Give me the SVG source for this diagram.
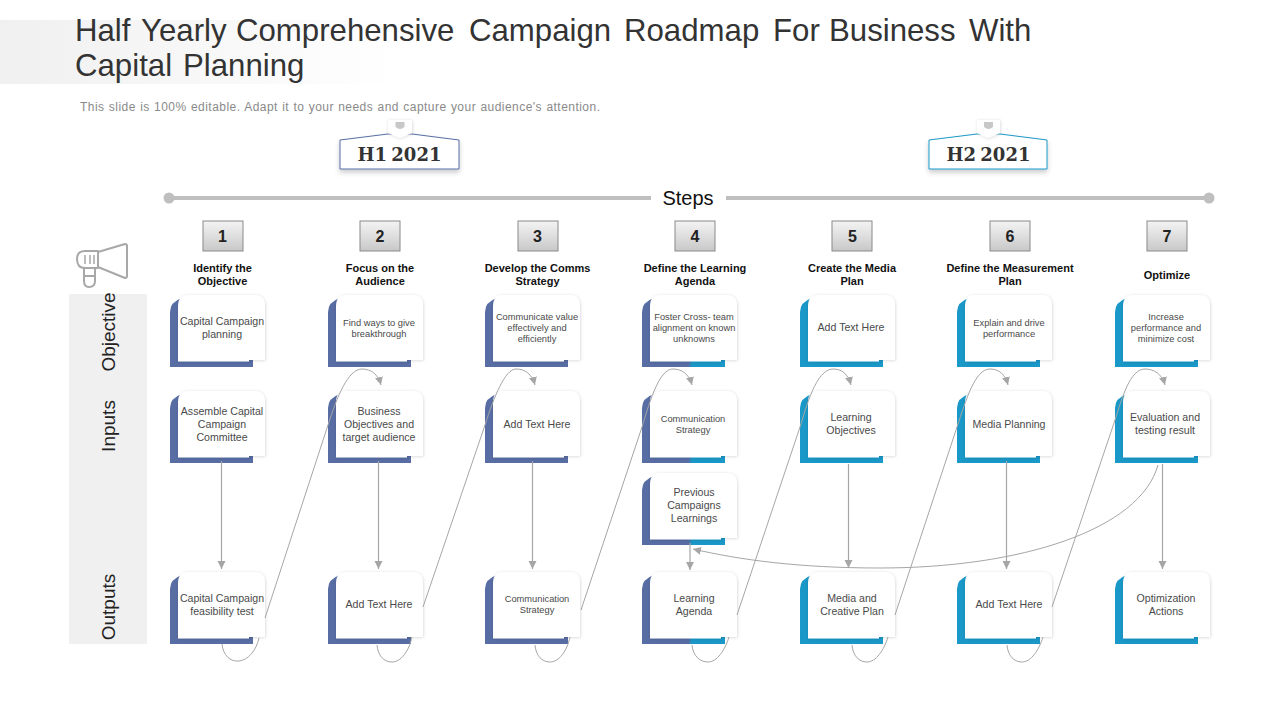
<svg xmlns="http://www.w3.org/2000/svg" width="1280" height="720" viewBox="0 0 1280 720">
<style>
text{font-family:"Liberation Sans",Arial,sans-serif;text-anchor:middle;fill:#4a4a4a}
.t{font-size:10.6px}
.s{font-size:9.3px}
.h{font-size:11px;font-weight:bold;fill:#111}
.n{font-size:16px;font-weight:bold;fill:#222}
.r{font-size:19px;fill:#222}
.y{font-family:"DejaVu Serif",serif;font-size:18px;font-weight:bold;fill:#333;word-spacing:-2px}
.ti{font-size:31.2px;text-anchor:start;fill:#333}
.c{fill:none;stroke:#a6a6a6;stroke-width:1}
.v{stroke-width:1.2}
.a{marker-end:url(#arr)}
.nb{fill:url(#nbg);stroke:#8a8a8a;stroke-width:1}
.pur{fill:#586da4}.cy{fill:#1a98c8}.mix{fill:url(#mix)}
.card{fill:#fff;filter:url(#sh)}
</style>
<defs>
<linearGradient id="band" x1="0" x2="1" y1="0" y2="0"><stop offset="0" stop-color="#f0f0f0"/><stop offset="1" stop-color="#fff"/></linearGradient>
<linearGradient id="nbg" x1="0" x2="0" y1="0" y2="1"><stop offset="0" stop-color="#f4f4f4"/><stop offset="1" stop-color="#c8c8c8"/></linearGradient>
<linearGradient id="mix" x1="0" x2="1" y1="0" y2="0"><stop offset="0.56" stop-color="#586da4"/><stop offset="0.6" stop-color="#1a98c8"/></linearGradient>
<filter id="sh" x="-10%" y="-10%" width="125%" height="125%"><feDropShadow dx="0.5" dy="0.5" stdDeviation="1.5" flood-color="#000" flood-opacity="0.17"/></filter>
<filter id="sh2" x="-10%" y="-20%" width="120%" height="150%"><feDropShadow dx="0" dy="3" stdDeviation="2.5" flood-color="#000" flood-opacity="0.2"/></filter>
<marker id="arr" markerUnits="userSpaceOnUse" markerWidth="10" markerHeight="10" refX="8" refY="4" orient="auto"><path d="M0,0L8,4L0,8Z" fill="#a6a6a6"/></marker>
<path id="back" d="M0,72V17Q0,7 12,3H83V72Z"/>
<path id="cardp" d="M8,66.500V11Q8,0 19,0H84Q95,0 95,11V65H79V66.500Z"/>
</defs>

<rect x="0" y="20" width="400" height="64" fill="url(#band)"/>
<g id="title">
<text class="ti" y="41"><tspan x="75">Half </tspan><tspan x="141">Yearly </tspan><tspan x="236">Comprehensive </tspan><tspan x="469">Campaign </tspan><tspan x="624">Roadmap </tspan><tspan x="773">For </tspan><tspan x="829">Business </tspan><tspan x="969">With</tspan></text>
<text class="ti" y="76"><tspan x="75">Capital </tspan><tspan x="183">Planning</tspan></text>
<text x="80" y="111" style="font-size:12px;text-anchor:start;fill:#8a8a8a;word-spacing:0.500px" textLength="520" lengthAdjust="spacing">This slide is 100% editable. Adapt it to your needs and capture your audience's attention.</text>
</g>

<g id="h1">
<path d="M340,140L388,134H412L459,140V169H340Z" fill="#fff" stroke="#586da4" filter="url(#sh2)"/>
<path d="M388,120H412V133L400,138L388,133Z" class="card"/>
<path d="M395.500,122H404.500V127Q400,131 395.500,127Z" fill="#c8c8c8"/>
<text class="y" x="399.500" y="161">H1 2021</text>
</g>
<g id="h2">
<path d="M929,140L977,134H1000L1047,140V169H929Z" fill="#fff" stroke="#1a98c8" filter="url(#sh2)"/>
<path d="M977,120H1000V133L988,138L977,133Z" class="card"/>
<path d="M984,122H993V127Q988.500,131 984,127Z" fill="#c8c8c8"/>
<text class="y" x="988.500" y="161">H2 2021</text>
</g>

<g id="steps">
<line x1="169" y1="198" x2="651" y2="198" stroke="#bfbfbf" stroke-width="4"/>
<line x1="726" y1="198" x2="1209" y2="198" stroke="#bfbfbf" stroke-width="4"/>
<circle cx="169" cy="198" r="5.500" fill="#bfbfbf"/>
<circle cx="1209" cy="198" r="5.500" fill="#bfbfbf"/>
<text x="688" y="205" style="font-size:20px;fill:#111">Steps</text>
</g>

<g id="megaphone" fill="none" stroke="#a8a8a8" stroke-width="2" stroke-linejoin="round">
<path d="M98,252L125,244Q127,244 127,246V276Q127,278 125,278L98,267Z"/>
<path d="M98,251H85Q77,251 77,259Q77,268 85,268H98Z"/>
<path d="M85,255V264M90,255V264M94,255V264" stroke-width="1.500"/>
<path d="M84,268V281Q84,287 89,287Q95,287 95,281V268M84,276H95"/>
</g>

<g id="row-labels">
<rect x="69" y="294" width="78" height="350" fill="#f0f0f0"/>
<text class="r" transform="translate(115,332) rotate(-90)">Objective</text>
<text class="r" transform="translate(115,426) rotate(-90)">Inputs</text>
<text class="r" transform="translate(115,607) rotate(-90)">Outputs</text>
</g>

<g id="step-1"><rect class="nb" x="203" y="221" width="40" height="30"/><text class="n" x="222.500" y="242">1</text><text class="h" x="222.500" y="272">Identify the</text><text class="h" x="222.500" y="285">Objective</text></g>
<g id="step-2"><rect class="nb" x="360" y="221" width="40" height="30"/><text class="n" x="380" y="242">2</text><text class="h" x="380" y="272">Focus on the</text><text class="h" x="380" y="285">Audience</text></g>
<g id="step-3"><rect class="nb" x="518" y="221" width="40" height="30"/><text class="n" x="537.500" y="242">3</text><text class="h" x="537.500" y="272">Develop the Comms</text><text class="h" x="537.500" y="285">Strategy</text></g>
<g id="step-4"><rect class="nb" x="675" y="221" width="40" height="30"/><text class="n" x="695" y="242">4</text><text class="h" x="695" y="272">Define the Learning</text><text class="h" x="695" y="285">Agenda</text></g>
<g id="step-5"><rect class="nb" x="832" y="221" width="40" height="30"/><text class="n" x="852.500" y="242">5</text><text class="h" x="852" y="272">Create the Media</text><text class="h" x="852" y="285">Plan</text></g>
<g id="step-6"><rect class="nb" x="990" y="221" width="40" height="30"/><text class="n" x="1010" y="242">6</text><text class="h" x="1010" y="272">Define the Measurement</text><text class="h" x="1010" y="285">Plan</text></g>
<g id="step-7"><rect class="nb" x="1147" y="221" width="40" height="30"/><text class="n" x="1167" y="242">7</text><text class="h" x="1167" y="279">Optimize</text></g>

<g id="obj-1"><use href="#back" class="pur" x="170" y="295"/><use href="#cardp" class="card" x="170" y="295"/><text class="t" x="222" y="325">Capital Campaign</text><text class="t" x="222" y="338">planning</text></g>
<g id="obj-2"><use href="#back" class="pur" x="328" y="295"/><use href="#cardp" class="card" x="328" y="295"/><text class="s" x="379" y="326">Find ways to give</text><text class="s" x="379" y="337">breakthrough</text></g>
<g id="obj-3"><use href="#back" class="pur" x="485" y="295"/><use href="#cardp" class="card" x="485" y="295"/><text class="s" x="537" y="320">Communicate value</text><text class="s" x="537" y="331">effectively and</text><text class="s" x="537" y="342">efficiently</text></g>
<g id="obj-4"><path class="mix" d="M642,367V312Q642,302 654,298H725V367Z"/><use href="#cardp" class="card" x="642" y="295"/><text class="s" x="694" y="320">Foster Cross- team</text><text class="s" x="694" y="331">alignment on known</text><text class="s" x="694" y="342">unknowns</text></g>
<g id="obj-5"><use href="#back" class="cy" x="800" y="295"/><use href="#cardp" class="card" x="800" y="295"/><text class="t" x="851" y="331">Add Text Here</text></g>
<g id="obj-6"><use href="#back" class="cy" x="957" y="295"/><use href="#cardp" class="card" x="957" y="295"/><text class="s" x="1009" y="326">Explain and drive</text><text class="s" x="1009" y="337">performance</text></g>
<g id="obj-7"><use href="#back" class="cy" x="1115" y="295"/><use href="#cardp" class="card" x="1115" y="295"/><text class="s" x="1166" y="320">Increase</text><text class="s" x="1166" y="331">performance and</text><text class="s" x="1166" y="342">minimize cost</text></g>

<g id="inp-1"><use href="#back" class="pur" x="170" y="391"/><use href="#cardp" class="card" x="170" y="391"/><text class="t" x="222" y="415">Assemble Capital</text><text class="t" x="222" y="428">Campaign</text><text class="t" x="222" y="441">Committee</text></g>
<g id="inp-2"><use href="#back" class="pur" x="328" y="391"/><use href="#cardp" class="card" x="328" y="391"/><text class="t" x="379" y="415">Business</text><text class="t" x="379" y="428">Objectives and</text><text class="t" x="379" y="441">target audience</text></g>
<g id="inp-3"><use href="#back" class="pur" x="485" y="391"/><use href="#cardp" class="card" x="485" y="391"/><text class="t" x="537" y="428">Add Text Here</text></g>
<g id="inp-4"><path class="mix" d="M642,463V408Q642,398 654,394H725V463Z"/><use href="#cardp" class="card" x="642" y="391"/><text class="s" x="693" y="422">Communication</text><text class="s" x="693" y="433">Strategy</text></g>
<g id="inp-5"><use href="#back" class="cy" x="800" y="391"/><use href="#cardp" class="card" x="800" y="391"/><text class="t" x="851" y="421">Learning</text><text class="t" x="851" y="434">Objectives</text></g>
<g id="inp-6"><use href="#back" class="cy" x="957" y="391"/><use href="#cardp" class="card" x="957" y="391"/><text class="t" x="1009" y="428">Media Planning</text></g>
<g id="inp-7"><use href="#back" class="cy" x="1115" y="391"/><use href="#cardp" class="card" x="1115" y="391"/><text class="t" x="1165" y="421">Evaluation and</text><text class="t" x="1165" y="434">testing result</text></g>

<g id="prev-4"><path class="mix" d="M642,545V490Q642,480 654,476H725V545Z"/><use href="#cardp" class="card" x="642" y="473"/><text class="t" x="694" y="496">Previous</text><text class="t" x="694" y="509">Campaigns</text><text class="t" x="694" y="522">Learnings</text></g>

<g id="out-1"><use href="#back" class="pur" x="170" y="572"/><use href="#cardp" class="card" x="170" y="572"/><text class="t" x="222" y="602">Capital Campaign</text><text class="t" x="222" y="615">feasibility test</text></g>
<g id="out-2"><use href="#back" class="pur" x="328" y="572"/><use href="#cardp" class="card" x="328" y="572"/><text class="t" x="379" y="608">Add Text Here</text></g>
<g id="out-3"><use href="#back" class="pur" x="485" y="572"/><use href="#cardp" class="card" x="485" y="572"/><text class="s" x="537" y="602">Communication</text><text class="s" x="537" y="613">Strategy</text></g>
<g id="out-4"><path class="mix" d="M642,644V589Q642,579 654,575H725V644Z"/><use href="#cardp" class="card" x="642" y="572"/><text class="t" x="694" y="602">Learning</text><text class="t" x="694" y="615">Agenda</text></g>
<g id="out-5"><use href="#back" class="cy" x="800" y="572"/><use href="#cardp" class="card" x="800" y="572"/><text class="t" x="852" y="602">Media and</text><text class="t" x="852" y="615">Creative Plan</text></g>
<g id="out-6"><use href="#back" class="cy" x="957" y="572"/><use href="#cardp" class="card" x="957" y="572"/><text class="t" x="1009" y="608">Add Text Here</text></g>
<g id="out-7"><use href="#back" class="cy" x="1115" y="572"/><use href="#cardp" class="card" x="1115" y="572"/><text class="t" x="1166" y="602">Optimization</text><text class="t" x="1166" y="615">Actions</text></g>

<g id="connectors">
<path class="c v a" d="M221.500,461V569"/>
<path class="c v a" d="M378.500,461V569"/>
<path class="c v a" d="M532.500,461V569"/>
<path class="c v a" d="M690,543V570"/>
<path class="c v a" d="M848.500,464V568"/>
<path class="c v a" d="M1006.500,461V569"/>
<path class="c v a" d="M1162.500,464V569"/>
<path class="c a" d="M1158,465C1140,530 1020,568 880,568C800,568 740,560 693,549"/>
<path class="c a" d="M222,644C223,655 230,662 239,661C248,660 256,651 259,638M265,618L328,425C337,397 348,369 362,369C371,369 378,374 381,385"/>
<path class="c a" d="M377,645C378,656 384,662 392,662C401,662 409,651 412,637M423,607L485,425C494,397 505,369 516,369C525,369 532,374 535,385"/>
<path class="c a" d="M535,645C536,656 542,662 550,662C559,662 567,651 570,637M581,610L642,427C651,397 660,369 673,369C682,369 689,374 692,385"/>
<path class="c a" d="M692,645C693,656 700,662 708,662C717,662 725,650 729,637M737,615L800,427C806,408 816,369 833,369C842,369 848,374 851,385"/>
<path class="c a" d="M852,645C853,656 859,662 867,662C876,662 884,650 888,637M895,615L957,427C966,400 975,369 990,369C999,369 1005,374 1008,385"/>
<path class="c a" d="M1007,645C1008,656 1014,662 1022,662C1031,662 1039,650 1043,637M1052,607L1115,420C1122,398 1130,369 1145,369C1154,369 1162,374 1165,385"/>
</g>
</svg>
